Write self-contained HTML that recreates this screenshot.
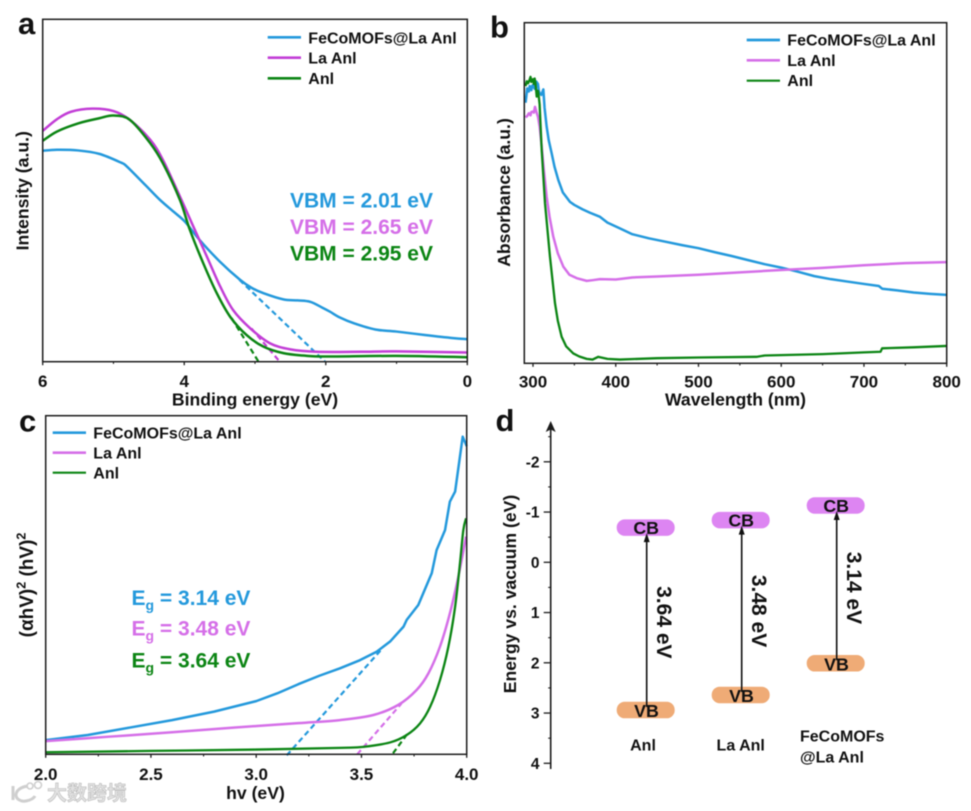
<!DOCTYPE html>
<html lang="en">
<head>
<meta charset="utf-8">
<title>Band structure characterization panels</title>
<style>
html,body{margin:0;padding:0;background:#fff;width:971px;height:811px;overflow:hidden}
svg{display:block;filter:blur(.4px)}
text{font-family:"Liberation Sans","Noto Sans CJK SC",sans-serif;font-weight:bold;fill:#111}
.leg{font-size:16px}
.note{font-size:21px}
.title{font-size:17.6px}
.letter{font-size:31px}
.cblue{fill:#2499dc}
.cpurple{fill:#d56fe8}
.cgreen{fill:#0c8514}
</style>
</head>
<body>
<svg id="chart" xmlns="http://www.w3.org/2000/svg" width="971" height="811" viewBox="0 0 971 811">
  <rect x="0" y="0" width="971" height="811" fill="#fff"/>

  <g id="panel-a">
    <text class="letter" x="18" y="34">a</text>
    <text class="title" x="255" y="405.5" text-anchor="middle">Binding energy (eV)</text>
    <text class="title" transform="translate(28.5 190.8) rotate(-90)" text-anchor="middle">Intensity (a.u.)</text>
    <line x1="267.7" x2="301" y1="37.3" y2="37.3" stroke="#2499dc" stroke-width="2.7"/>
    <text class="leg" x="308.3" y="43.3">FeCoMOFs@La Anl</text>
    <line x1="267.7" x2="301" y1="57.7" y2="57.7" stroke="#c23ed6" stroke-width="2.7"/>
    <text class="leg" x="308.3" y="63.5">La Anl</text>
    <line x1="267.7" x2="301" y1="78.3" y2="78.3" stroke="#0c8514" stroke-width="2.7"/>
    <text class="leg" x="308.3" y="84">Anl</text>
    <text class="note cblue" x="290" y="207.7">VBM = 2.01 eV</text>
    <text class="note cpurple" x="290" y="234">VBM = 2.65 eV</text>
    <text class="note cgreen" x="290" y="260.3">VBM = 2.95 eV</text>
  </g>

  <g id="panel-b">
    <text class="letter" x="490" y="37.5">b</text>
    <text class="title" x="735.5" y="405.5" text-anchor="middle">Wavelength (nm)</text>
    <text class="title" transform="translate(510 192.5) rotate(-90)" text-anchor="middle">Absorbance (a.u.)</text>
    <line x1="746.7" x2="780" y1="40" y2="40" stroke="#2499dc" stroke-width="2.7"/>
    <text class="leg" x="787.3" y="45.5">FeCoMOFs@La Anl</text>
    <line x1="746.7" x2="780" y1="60.3" y2="60.3" stroke="#d56fe8" stroke-width="2.7"/>
    <text class="leg" x="787.3" y="65.8">La Anl</text>
    <line x1="746.7" x2="780" y1="80.7" y2="80.7" stroke="#0c8514" stroke-width="2.2"/>
    <text class="leg" x="787.3" y="86">Anl</text>
  </g>

  <g id="panel-c">
    <text class="letter" x="19" y="431.5">c</text>
    <text class="title" x="255.5" y="799" text-anchor="middle">hv (eV)</text>
    <text font-size="19" transform="translate(33 585) rotate(-90)" text-anchor="middle">(αhV)<tspan font-size="12.5" dy="-7.5">2</tspan><tspan dy="7.5"> (hV)</tspan><tspan font-size="12.5" dy="-7.5">2</tspan></text>
    <line x1="52.7" x2="86" y1="432.7" y2="432.7" stroke="#2499dc" stroke-width="2.7"/>
    <text class="leg" x="93.3" y="438.5">FeCoMOFs@La Anl</text>
    <line x1="52.7" x2="86" y1="452.7" y2="452.7" stroke="#d56fe8" stroke-width="2.7"/>
    <text class="leg" x="93.3" y="458.5">La Anl</text>
    <line x1="52.7" x2="86" y1="472.7" y2="472.7" stroke="#0c8514" stroke-width="2.2"/>
    <text class="leg" x="93.3" y="478.5">Anl</text>
    <text class="note cblue" x="131.5" y="605">E<tspan font-size="14" dy="5">g</tspan><tspan dy="-5"> = 3.14 eV</tspan></text>
    <text class="note cpurple" x="131.5" y="635.7">E<tspan font-size="14" dy="5">g</tspan><tspan dy="-5"> = 3.48 eV</tspan></text>
    <text class="note cgreen" x="131.5" y="667.3">E<tspan font-size="14" dy="5">g</tspan><tspan dy="-5"> = 3.64 eV</tspan></text>
  </g>

  <g id="panel-d">
    <text class="letter" x="495.5" y="431">d</text>
    <text class="title" transform="translate(516 594) rotate(-90)" text-anchor="middle">Energy vs. vacuum (eV)</text>
    <text class="leg" x="643" y="750.7" text-anchor="middle">Anl</text>
    <text class="leg" x="740.7" y="750.7" text-anchor="middle">La Anl</text>
    <text class="leg" x="800" y="741.7">FeCoMOFs</text>
    <text class="leg" x="800" y="762.7">@La Anl</text>
  </g>

  <g id="watermark">
    <path d="M13 786v14M28 786c-8 1-12 5-12 9s5 7 10 6 8-3 9-5" fill="none" stroke="#cfcfcf" stroke-width="3"/>
    <circle cx="30" cy="786" r="3" fill="none" stroke="#cfcfcf" stroke-width="1.6"/>
    <circle cx="38" cy="785" r="3.5" fill="none" stroke="#cfcfcf" stroke-width="1.6"/>
    <text x="47" y="800" font-size="20" style="font-family:'Noto Sans CJK SC',sans-serif;fill:#e2e2e2;stroke:#bcbcbc;stroke-width:.6">大数跨境</text>
  </g>
</svg>

<script>
// ---------- Panel a: binding energy (eV) vs intensity (a.u.) ----------
const aBlueX = [6,5.8,5.5,5.2,4.9,4.81,4.55,4.34,4.15,3.99,3.78,3.495,3.21,3.05,2.88,2.6,2.4,2.22,2.05,1.94,1.8,1.6,1.3,1,0.6,0.2,0];
const aBlueY = [61.6,61.9,61.7,60.7,58.2,57,51.6,47.2,43.8,40.9,35.5,29.2,23.9,21.6,20,18.2,17.9,17.5,15.8,14.6,12.9,11.2,9.4,8.8,7.8,6.9,6.6];
const aPurpleX = [6,5.8,5.6,5.3,5,4.766,4.48,4.3,4.06,3.87,3.68,3.49,3.31,3.07,2.79,2.5,2.13,1.5,1,0];
const aPurpleY = [67.4,70.8,73,73.9,73.2,70.6,64.8,58.9,48.2,39.4,30.7,21.9,15.1,9.8,5.4,3.6,2.9,2.9,3,2.7];
const aGreenX = [6,5.8,5.5,5.2,5,4.766,4.48,4.3,4.06,3.92,3.73,3.54,3.35,3.12,2.88,2.6,2.32,2,1,0];
const aGreenY = [64.5,67.2,69.6,71.1,71.9,70.6,63.8,57.9,47.2,38.5,28.7,20,13.1,7.8,4.4,2.5,1.8,1.5,1.7,1.3];
const aTangentBlueX = [3.22,2.01];
const aTangentBlueY = [23.9,0];
const aTangentPurpleX = [3.05,2.65];
const aTangentPurpleY = [9.7,0];
const aTangentGreenX = [3.33,2.95];
const aTangentGreenY = [12.7,0];
const aMajorTicks = [6,4,2,0];
const aMinorTicks = [5,3,1];

// ---------- Panel b: wavelength (nm) vs absorbance (a.u.) ----------
const bBlueX = [291,292,293,295,296,298,299,300,302,304,306,307,308,310,312.5,314,316.5,319,322.6,326,330.6,336,344.7,350,360,368.9,381,390,405,420,440,460,480,500,520,540,560,580,600,620,640,660,680,700,718,722,740,760,780,800];
const bBlueY = [76.5,78.5,80.7,79.8,81.4,80.2,81.5,81.7,80.6,82.7,82,80,79.3,78.8,80.4,75,69.5,65.5,61.6,57.7,53.8,50.2,47.4,46.5,45.2,44.2,43,41.3,39.6,37.9,36.7,35.7,34.7,33.8,32.6,31.5,30.3,29.1,28.1,26.9,25.6,24.7,24,23.3,22.7,21.9,21.4,20.8,20.4,20.1];
const bPurpleX = [291,293,295,297,298,300,301,302.4,304,306,308,310.5,313,316.5,320,324.5,330,336.6,344,352.8,364.9,372,381,400,420,450,500,550,600,650,700,750,800];
const bPurpleY = [72.2,72.6,73.4,72.8,73.8,73.9,73.6,75.3,73.9,72.4,69.5,63.6,57,48.9,43,37.2,32.3,28.4,26,25,24.2,24.4,24.7,24.6,25.2,25.5,26,26.7,27.4,28,28.8,29.4,29.7];
const bGreenX = [291,292.5,294,295.5,297,298,299,300,301,302,303,304.5,306,307,308,310.5,314.5,320.5,326.6,330,334.6,340,348.7,356,364.9,372,378.9,390,405,450,500,570,580,650,700,720,722,760,800];
const bGreenY = [81.4,82.8,82.2,83,84.1,82.6,83,83.4,82,83.6,82.2,78.3,80,78.3,76,62.6,47,31.3,17.6,12.5,7.8,5,2.9,2,1.3,1.1,1.9,1.3,1.1,1.5,1.7,1.9,2.3,2.7,3.2,3.4,4.4,4.7,5.1];
const bMajorTicks = [300,400,500,600,700,800];
const bMinorTicks = [350,450,550,650,750];

// ---------- Panel c: hv (eV) vs Tauc function ----------
const cBlueX = [2,2.2,2.4,2.6,2.8,3,3.1,3.2,3.3,3.398,3.493,3.572,3.636,3.7,3.715,3.77,3.834,3.857,3.897,3.92,3.945,3.981,4];
const cBlueY = [4.2,5.7,7.9,10.1,12.6,15.7,18,20.7,23.2,25.4,27.8,30.3,33.3,37.7,39.7,44.1,53.5,60.3,66.2,74.6,77.6,93.8,91];
const cPurpleX = [2,2.3,2.6,2.9,3.2,3.398,3.557,3.675,3.762,3.818,3.873,3.92,3.96,3.997];
const cPurpleY = [3.9,5.2,6.5,7.9,9.2,10.1,11.6,14.6,19,23.9,31.8,41.6,52.4,64.3];
const cGreenX = [2,2.5,3,3.398,3.509,3.636,3.715,3.778,3.826,3.873,3.913,3.945,3.968,3.984,3.997];
const cGreenY = [0.6,1,1.4,1.9,2.2,3.5,5.7,9.1,14,21.9,31.8,43.6,56.4,66.2,69.7];
const cTangentBlueX = [3.145,3.6];
const cTangentBlueY = [-0.3,31.3];
const cTangentPurpleX = [3.48,3.69];
const cTangentPurpleY = [0,15];
const cTangentGreenX = [3.65,3.72];
const cTangentGreenY = [0.3,6.2];
const cMajorTicks = [2,2.5,3,3.5,4];
const cMinorTicks = [2.25,2.75,3.25,3.75];
const cTickLabels = ['2.0','2.5','3.0','3.5','4.0'];

// ---------- Panel d: band edges (eV) ----------
const dSamples = ['anl','la-anl','fecomofs'];
const dCB = [-0.69,-0.84,-1.13];
const dVB = [2.94,2.64,2.01];
const dGapLabels = ['3.64 eV','3.48 eV','3.14 eV'];
const dMajorTicks = [-2,-1,0,1,2,3,4];
const dMinorTicks = [-2.5,-1.5,-0.5,0.5,1.5,2.5,3.5];

const NS = 'http://www.w3.org/2000/svg';
const INK = '#1c1c1c';
const BLUE = '#2499dc', PURPLE_A = '#c23ed6', PURPLE = '#d56fe8', GREEN = '#0c8514';

function scale(d0, d1, r0, r1) {
  return function (v) { return r0 + (v - d0) * (r1 - r0) / (d1 - d0); };
}
function el(parent, tag, name) {
  const node = document.createElementNS(NS, tag);
  
  
  parent.appendChild(node);
  return node;
}
function polyPath(xs, ys, sx, sy) {
  return xs.map(function (x, i) {
    return (i ? 'L' : 'M') + sx(x).toFixed(2) + ' ' + sy(ys[i]).toFixed(2);
  }).join('');
}
function smoothPath(xs, ys, sx, sy) {
  const p = xs.map(function (x, i) { return [sx(x), sy(ys[i])]; });
  let d = 'M' + p[0][0].toFixed(2) + ' ' + p[0][1].toFixed(2);
  for (let i = 0; i < p.length - 1; i++) {
    const a = p[Math.max(i - 1, 0)], b = p[i], c = p[i + 1], e = p[Math.min(i + 2, p.length - 1)];
    d += 'C' + (b[0] + (c[0] - a[0]) / 6).toFixed(2) + ' ' + (b[1] + (c[1] - a[1]) / 6).toFixed(2) + ' ' +
         (c[0] - (e[0] - b[0]) / 6).toFixed(2) + ' ' + (c[1] - (e[1] - b[1]) / 6).toFixed(2) + ' ' +
         c[0].toFixed(2) + ' ' + c[1].toFixed(2);
  }
  return d;
}
function curve(g, name, d, color, width) {
  const path = el(g, 'path', name);
  path.setAttribute('d', d);
  path.setAttribute('fill', 'none');
  path.setAttribute('stroke', color);
  path.setAttribute('stroke-width', width);
  path.setAttribute('stroke-linejoin', 'round');
  return path;
}
function tangent(g, name, xs, ys, sx, sy, color) {
  const path = curve(g, name, polyPath(xs, ys, sx, sy), color, 2.2);
  path.setAttribute('stroke-dasharray', '5.5 3.5');
}
function frame(g, prefix, box, sx, major, minor, labels, labelY) {
  const r = el(g, 'rect', prefix + '-plot-frame');
  r.setAttribute('x', box.x0);
  r.setAttribute('y', box.y0);
  r.setAttribute('width', box.x1 - box.x0);
  r.setAttribute('height', box.y1 - box.y0);
  r.setAttribute('fill', 'none');
  r.setAttribute('stroke', INK);
  r.setAttribute('stroke-width', 1.5);
  major.forEach(function (v, i) {
    const t = el(g, 'line', prefix + '-x-tick');
    t.setAttribute('x1', sx(v));
    t.setAttribute('x2', sx(v));
    t.setAttribute('y1', box.y1);
    t.setAttribute('y2', box.y1 + 3.5);
    t.setAttribute('stroke', INK);
    t.setAttribute('stroke-width', 1.3);
    const lab = el(g, 'text', prefix + '-x-tick-label');
    lab.setAttribute('x', sx(v));
    lab.setAttribute('y', labelY);
    lab.setAttribute('text-anchor', 'middle');
    lab.setAttribute('font-size', '17');
    lab.textContent = labels[i];
  });
  minor.forEach(function (v) {
    const t = el(g, 'line', prefix + '-x-minor-tick');
    t.setAttribute('x1', sx(v));
    t.setAttribute('x2', sx(v));
    t.setAttribute('y1', box.y1);
    t.setAttribute('y2', box.y1 + 2.2);
    t.setAttribute('stroke', INK);
    t.setAttribute('stroke-width', 1.1);
  });
}

// Panel a
(function () {
  const g = document.getElementById('panel-a');
  const box = {x0: 42.7, x1: 467.3, y0: 19.3, y1: 361.7};
  const sx = scale(6, 0, box.x0, box.x1), sy = scale(0, 100, box.y1, box.y0);
  tangent(g, 'tangent-a-fecomofs', aTangentBlueX, aTangentBlueY, sx, sy, BLUE);
  tangent(g, 'tangent-a-la-anl', aTangentPurpleX, aTangentPurpleY, sx, sy, PURPLE_A);
  tangent(g, 'tangent-a-anl', aTangentGreenX, aTangentGreenY, sx, sy, GREEN);
  curve(g, 'curve-a-fecomofs', smoothPath(aBlueX, aBlueY, sx, sy), BLUE, 2.5);
  curve(g, 'curve-a-la-anl', smoothPath(aPurpleX, aPurpleY, sx, sy), PURPLE_A, 2.5);
  curve(g, 'curve-a-anl', smoothPath(aGreenX, aGreenY, sx, sy), GREEN, 2.5);
  frame(g, 'panel-a', box, sx, aMajorTicks, aMinorTicks, aMajorTicks.map(String), 387);
})();

// Panel b
(function () {
  const g = document.getElementById('panel-b');
  const box = {x0: 524.3, x1: 946.7, y0: 22.7, y1: 363.3};
  const sx = scale(300, 800, 533, 946.7), sy = scale(0, 100, box.y1, box.y0);
  curve(g, 'curve-b-fecomofs', polyPath(bBlueX, bBlueY, sx, sy), BLUE, 2.5);
  curve(g, 'curve-b-la-anl', polyPath(bPurpleX, bPurpleY, sx, sy), PURPLE, 2.5);
  curve(g, 'curve-b-anl', polyPath(bGreenX, bGreenY, sx, sy), GREEN, 2.3);
  frame(g, 'panel-b', box, sx, bMajorTicks, bMinorTicks, bMajorTicks.map(String), 387.7);
})();

// Panel c
(function () {
  const g = document.getElementById('panel-c');
  const box = {x0: 45.7, x1: 466.7, y0: 415.7, y1: 754.3};
  const sx = scale(2, 4, box.x0, box.x1), sy = scale(0, 100, box.y1, box.y0);
  tangent(g, 'tangent-c-fecomofs', cTangentBlueX, cTangentBlueY, sx, sy, BLUE);
  tangent(g, 'tangent-c-la-anl', cTangentPurpleX, cTangentPurpleY, sx, sy, PURPLE);
  tangent(g, 'tangent-c-anl', cTangentGreenX, cTangentGreenY, sx, sy, GREEN);
  curve(g, 'curve-c-fecomofs', polyPath(cBlueX, cBlueY, sx, sy), BLUE, 2.5);
  curve(g, 'curve-c-la-anl', smoothPath(cPurpleX, cPurpleY, sx, sy), PURPLE, 2.5);
  curve(g, 'curve-c-anl', smoothPath(cGreenX, cGreenY, sx, sy), GREEN, 2.3);
  frame(g, 'panel-c', box, sx, cMajorTicks, cMinorTicks, cTickLabels, 780);
})();

// Panel d
(function () {
  const g = document.getElementById('panel-d');
  const sy = scale(0, 4, 562.3, 763.3);
  const axisX = 550.7;
  const sampleX = scale(0, 2, 645.7, 835.7);
  const bandW = 58, bandH = 16.5;

  const axis = el(g, 'line', 'energy-axis-line');
  axis.setAttribute('x1', axisX);
  axis.setAttribute('x2', axisX);
  axis.setAttribute('y1', 769);
  axis.setAttribute('y2', 428);
  axis.setAttribute('stroke', INK);
  axis.setAttribute('stroke-width', 1.6);
  const head = el(g, 'path', 'energy-axis-arrowhead');
  head.setAttribute('d', 'M' + axisX + ' 421l-5 11 5-2.5 5 2.5z');
  head.setAttribute('fill', INK);

  dMajorTicks.forEach(function (v) {
    const t = el(g, 'line', 'energy-axis-tick');
    t.setAttribute('x1', axisX - 7);
    t.setAttribute('x2', axisX);
    t.setAttribute('y1', sy(v));
    t.setAttribute('y2', sy(v));
    t.setAttribute('stroke', INK);
    t.setAttribute('stroke-width', 1.3);
    const lab = el(g, 'text', 'energy-axis-tick-label');
    lab.setAttribute('x', 539.5);
    lab.setAttribute('y', sy(v) + 5.5);
    lab.setAttribute('text-anchor', 'end');
    lab.setAttribute('font-size', '15.5');
    lab.textContent = String(v);
  });
  dMinorTicks.forEach(function (v) {
    const t = el(g, 'line', 'energy-axis-minor-tick');
    t.setAttribute('x1', axisX - 2.5);
    t.setAttribute('x2', axisX);
    t.setAttribute('y1', sy(v));
    t.setAttribute('y2', sy(v));
    t.setAttribute('stroke', INK);
    t.setAttribute('stroke-width', 1.1);
  });

  dSamples.forEach(function (name, i) {
    const cx = sampleX(i);
    const cb = el(g, 'rect', 'conduction-band-' + name);
    cb.setAttribute('x', cx - bandW / 2);
    cb.setAttribute('y', sy(dCB[i]) - bandH / 2);
    cb.setAttribute('width', bandW);
    cb.setAttribute('height', bandH);
    cb.setAttribute('rx', 8);
    cb.setAttribute('fill', '#dd85f2');
    const vb = el(g, 'rect', 'valence-band-' + name);
    vb.setAttribute('x', cx - bandW / 2);
    vb.setAttribute('y', sy(dVB[i]) - bandH / 2);
    vb.setAttribute('width', bandW);
    vb.setAttribute('height', bandH);
    vb.setAttribute('rx', 8);
    vb.setAttribute('fill', '#efab76');

    const cbLab = el(g, 'text', 'conduction-band-label-' + name);
    cbLab.setAttribute('x', cx + 0.5);
    cbLab.setAttribute('y', sy(dCB[i]) + 6.3);
    cbLab.setAttribute('text-anchor', 'middle');
    cbLab.setAttribute('font-size', '17.8');
    cbLab.textContent = 'CB';
    const vbLab = el(g, 'text', 'valence-band-label-' + name);
    vbLab.setAttribute('x', cx + 0.8);
    vbLab.setAttribute('y', sy(dVB[i]) + 7);
    vbLab.setAttribute('text-anchor', 'middle');
    vbLab.setAttribute('font-size', '17.8');
    vbLab.textContent = 'VB';

    const ax = cx + 1;
    const tip = sy(dCB[i]) + 5.5;
    const arrow = el(g, 'line', 'gap-arrow-' + name);
    arrow.setAttribute('x1', ax);
    arrow.setAttribute('x2', ax);
    arrow.setAttribute('y1', sy(dVB[i]) - 3);
    arrow.setAttribute('y2', tip + 6);
    arrow.setAttribute('stroke', '#111');
    arrow.setAttribute('stroke-width', 1.6);
    const ah = el(g, 'path', 'gap-arrowhead-' + name);
    ah.setAttribute('d', 'M' + ax + ' ' + tip + 'l-3 9h6z');
    ah.setAttribute('fill', '#111');

    const gap = el(g, 'text', 'gap-value-' + name);
    gap.setAttribute('transform', 'translate(' + (ax + 10.5) + ' ' + ((sy(dCB[i]) + sy(dVB[i])) / 2 + 3.5) + ') rotate(90)');
    gap.setAttribute('text-anchor', 'middle');
    gap.setAttribute('font-size', '21');
    gap.textContent = dGapLabels[i];
  });
})();
</script>
</body>
</html>
